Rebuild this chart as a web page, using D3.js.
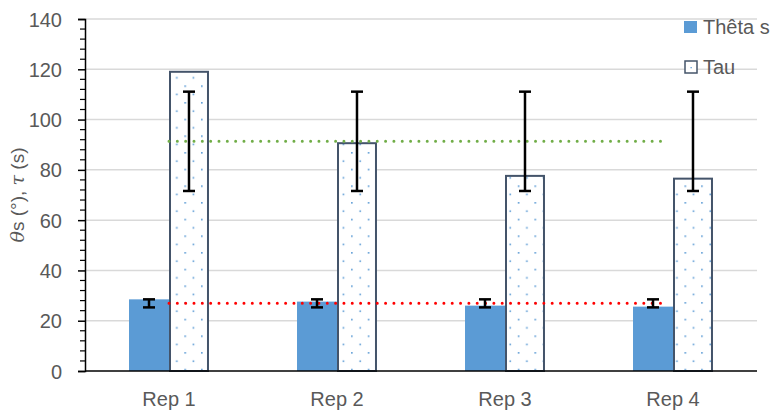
<!DOCTYPE html>
<html><head><meta charset="utf-8">
<script src="https://cdn.jsdelivr.net/npm/d3@7/dist/d3.min.js"></script>
<style>
html,body{margin:0;padding:0;background:#fff;}
text{font-family:"Liberation Sans",Arial,sans-serif;fill:#595959;}
</style></head>
<body><svg id="c" width="774" height="412"></svg>
<script>
const categories = ["Rep 1","Rep 2","Rep 3","Rep 4"];
const seriesNames = ["Thêta s","Tau"];
const thetaValues = [28.5, 27.6, 26.0, 25.6];
const tauValues = [119.4, 91.0, 78.0, 76.9];
const thetaErrLow = [25.3, 25.3, 25.3, 25.3];
const thetaErrHigh = [28.5, 28.5, 28.5, 28.5];
const tauErrLow = [71.6, 71.6, 71.6, 71.6];
const tauErrHigh = [111.1, 111.1, 111.1, 111.1];
const thetaMean = 26.9;
const tauMean = 91.4;
const yTicks = [0,20,40,60,80,100,120,140];

const svg = d3.select("#c");
const pLeft = 85, pRight = 757, pTop = 19, pBottom = 371;

const y = d3.scaleLinear().domain([0,140]).range([pBottom, pTop]);
const x = d3.scaleBand().domain(categories).range([pLeft, pRight]).paddingInner(0.524).paddingOuter(0.262);
const xs = d3.scaleBand().domain(seriesNames).range([0, x.bandwidth()]);

const defs = svg.append("defs");
const pat = defs.append("pattern").attr("id","dots").attr("patternUnits","userSpaceOnUse")
  .attr("width",16.67).attr("height",16.67).attr("x",1).attr("y",2);
pat.append("rect").attr("width",16.67).attr("height",16.67).attr("fill","#fff");
pat.append("rect").attr("x",0).attr("y",0).attr("width",1.6).attr("height",1.6).attr("fill","#5b9bd5");
pat.append("rect").attr("x",8.33).attr("y",8.33).attr("width",1.6).attr("height",1.6).attr("fill","#5b9bd5");

// gridlines
svg.append("g").selectAll("line").data(yTicks.filter(d=>d>0)).join("line")
  .attr("x1",pLeft).attr("x2",pRight).attr("y1",d=>y(d)).attr("y2",d=>y(d))
  .attr("stroke","#d9d9d9").attr("stroke-width",1.5);

// bars
const g = svg.append("g");
g.selectAll("rect.theta").data(categories).join("rect").attr("class","theta")
  .attr("x",d=>x(d)+xs("Thêta s")).attr("width",xs.bandwidth())
  .attr("y",(d,i)=>y(thetaValues[i])).attr("height",(d,i)=>y(0)-y(thetaValues[i]))
  .attr("fill","#5b9bd5");
g.selectAll("rect.tau").data(categories).join("rect").attr("class","tau")
  .attr("x",d=>x(d)+xs("Tau")+1).attr("width",xs.bandwidth()-2)
  .attr("y",(d,i)=>y(tauValues[i])+1).attr("height",(d,i)=>y(0)-y(tauValues[i])-1)
  .attr("fill","url(#dots)").attr("stroke","#44546a").attr("stroke-width",2);

// mean lines
function meanLine(v,color){
  svg.append("line").attr("x1",x(categories[0])+x.bandwidth()/2).attr("x2",x(categories[3])+x.bandwidth()/2-6)
    .attr("y1",y(v)).attr("y2",y(v)).attr("stroke",color).attr("stroke-width",3)
    .attr("stroke-linecap","round").attr("stroke-dasharray","0 8.33");
}
meanLine(tauMean,"#70ad47");
meanLine(thetaMean,"#ff0000");

// error bars
function errBars(name, lo, hi){
  const eg = svg.append("g").attr("stroke","#000").attr("stroke-width",2.5);
  categories.forEach((c,i)=>{
    const cx = x(c)+xs(name)+xs.bandwidth()/2;
    eg.append("line").attr("x1",cx).attr("x2",cx).attr("y1",y(lo[i])).attr("y2",y(hi[i]));
    eg.append("line").attr("x1",cx-6).attr("x2",cx+6).attr("y1",y(lo[i])).attr("y2",y(lo[i]));
    eg.append("line").attr("x1",cx-6).attr("x2",cx+6).attr("y1",y(hi[i])).attr("y2",y(hi[i]));
  });
}
errBars("Tau", tauErrLow, tauErrHigh);
errBars("Thêta s", thetaErrLow, thetaErrHigh);

// y axis
const yAxis = svg.append("g").attr("transform",`translate(${pLeft},0)`)
  .call(d3.axisLeft(y).tickValues(yTicks).tickSize(7).tickPadding(16).tickFormat(d3.format("d")));
yAxis.select(".domain").attr("stroke","#000").attr("stroke-width",1.5);
yAxis.selectAll(".tick line").attr("stroke","#000").attr("stroke-width",1.5);
yAxis.selectAll(".tick text").style("font-size","20px").attr("fill","#595959").attr("dy","0.35em");
const minor = d3.range(0,141,4).filter(d=>d%20!==0);
svg.append("g").selectAll("line").data(minor).join("line")
  .attr("x1",pLeft-5).attr("x2",pLeft).attr("y1",d=>y(d)).attr("y2",d=>y(d))
  .attr("stroke","#000").attr("stroke-width",1.2);

// x axis
const xAxis = svg.append("g").attr("transform",`translate(0,${pBottom})`)
  .call(d3.axisBottom(x).tickSize(0).tickPadding(21));
xAxis.select(".domain").attr("stroke","#000").attr("stroke-width",1.5).attr("d",`M${pLeft},0H${pRight}`);
xAxis.selectAll(".tick text").style("font-size","20px").attr("fill","#595959");

// y title
const yt = svg.append("text").attr("transform",`translate(24,${(pTop+pBottom)/2}) rotate(-90)`)
  .attr("text-anchor","middle").style("font-size","19px");
yt.append("tspan").text("θ").style("font-style","italic").style("font-family","'DejaVu Serif',serif");
yt.append("tspan").text("s (°), ");
yt.append("tspan").text("τ").style("font-style","italic").style("font-family","'DejaVu Serif',serif");
yt.append("tspan").text(" (s)");

// legend
const lg = svg.append("g");
lg.append("rect").attr("x",684).attr("y",21).attr("width",13).attr("height",12).attr("fill","#5b9bd5");
lg.append("text").attr("x",703).attr("y",27).attr("dy","0.35em").style("font-size","20px").text(seriesNames[0]);
lg.append("rect").attr("x",685).attr("y",61).attr("width",12).attr("height",12).attr("fill","#fff").attr("stroke","#44546a").attr("stroke-width",1.5);
lg.append("rect").attr("x",690.5).attr("y",67).attr("width",1.3).attr("height",1.3).attr("fill","#5b9bd5");
lg.append("text").attr("x",703).attr("y",67).attr("dy","0.35em").style("font-size","20px").text(seriesNames[1]);
</script></body></html>
